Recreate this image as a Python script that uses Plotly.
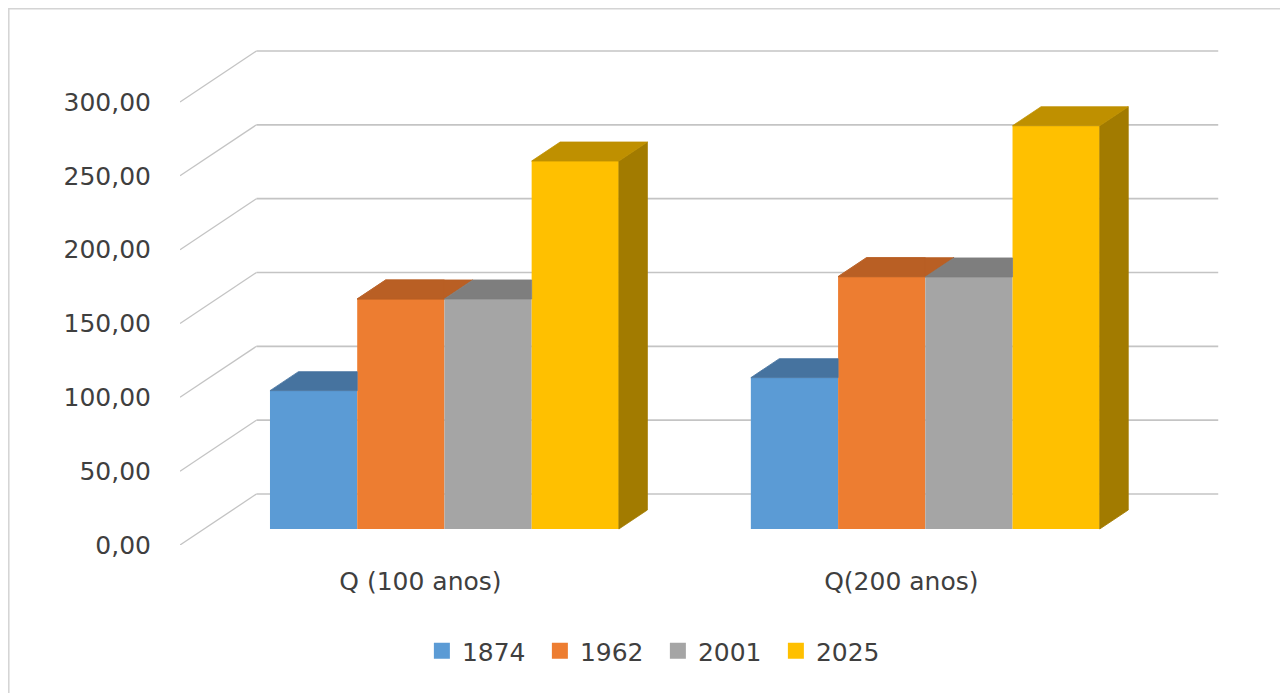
import plotly.graph_objects as go

# ---------------- data ----------------
categories = ["Q (100 anos)", "Q(200 anos)"]
series_names = ["1874", "1962", "2001", "2025"]
values_1874 = [93.7, 102.5]
values_1962 = [155.8, 170.9]
values_2001 = [155.8, 170.7]
values_2025 = [249.2, 273.1]
y_tick_values = [0, 50, 100, 150, 200, 250, 300]
y_tick_labels = ["0,00", "50,00", "100,00", "150,00", "200,00", "250,00", "300,00"]

series_values = [values_1874, values_1962, values_2001, values_2025]

# ---------------- styling ----------------
front_colors = ["#5B9BD5", "#ED7D31", "#A5A5A5", "#FFC000"]
top_colors = ["#46739F", "#B95F24", "#7E7E7E", "#BF9000"]
side_colors = ["#3B6186", "#9C4F1D", "#6B6B6B", "#A27B00"]
grid_color = "#C4C4C4"
text_color = "#3F3F3F"
FONT = "DejaVu Sans"

# page offset of the plot div (default body margin)
OFF = 8
FIG_W = 1288 - OFF
FIG_H = 693 - OFF

# pixel geometry of the oblique (fake 3-D) projection
PX_Y = 443 / 300.0          # px per value unit
PX_X = 481.0                # px per category
WDY = 51 / PX_Y             # back wall offset (value units)
WDX = 76.5 / PX_X           # back wall offset (category units)
BY0 = 16 / PX_Y             # bar front plane offset
BX0 = 24 / PX_X
BDY = 19 / PX_Y             # bar depth
BDX = 28.5 / PX_X
W = 87.25 / PX_X            # bar width
K = BDY / BDX

X_MIN = -0.5
X_MAX = 1.5 + WDX + 0.012
Y_MAX = (545 - 49) / PX_Y

L_M = 180 - OFF
T_M = 49 - OFF
PLOT_W = (X_MAX - X_MIN) * PX_X
PLOT_H = Y_MAX * PX_Y
R_M = FIG_W - L_M - PLOT_W
B_M = FIG_H - T_M - PLOT_H


def clip(poly, f):
    out = []
    n = len(poly)
    for k in range(n):
        p, q = poly[k], poly[(k + 1) % n]
        fp, fq = f(p), f(q)
        if fp >= -1e-9:
            out.append(p)
        if (fp >= -1e-9) != (fq >= -1e-9):
            t = fp / (fp - fq)
            out.append((p[0] + t * (q[0] - p[0]), p[1] + t * (q[1] - p[1])))
    return out


def area(poly):
    s = 0.0
    for k in range(len(poly)):
        x0, y0 = poly[k]
        x1, y1 = poly[(k + 1) % len(poly)]
        s += x0 * y1 - x1 * y0
    return abs(s) / 2


fig = go.Figure()

# front faces as bars
for i, name in enumerate(series_names):
    xs = [c + BX0 - 2 * W + (i + 0.5) * W for c in range(len(categories))]
    fig.add_trace(go.Bar(
        x=xs, y=series_values[i], base=BY0, width=W, name=name,
        marker=dict(color=front_colors[i], line=dict(width=0)),
        hoverinfo="skip", showlegend=False, legendgroup=name,
    ))

# top and side faces
top_polys = [[] for _ in series_names]
side_polys = [[] for _ in series_names]
for c in range(len(categories)):
    for i in range(len(series_names)):
        x0 = c + BX0 - 2 * W + i * W
        x1 = x0 + W
        t = BY0 + series_values[i][c]
        top = [(x0, t), (x1, t), (x1 + BDX, t + BDY), (x0 + BDX, t + BDY)]
        side = [(x1, BY0), (x1 + BDX, BY0 + BDY), (x1 + BDX, t + BDY), (x1, t)]
        if i + 1 < len(series_names):
            nt = BY0 + series_values[i + 1][c]
            above = (lambda p, nt=nt, x1=x1: p[1] - (nt + (p[0] - x1) * K))
            left = (lambda p, x1=x1: x1 - p[0])
            tops = [clip(top, left), clip(top, above)]
            sides = [clip(side, above)]
        else:
            tops = [top]
            sides = [side]
        top_polys[i] += [p for p in tops if len(p) >= 3 and area(p) > 1e-6]
        side_polys[i] += [p for p in sides if len(p) >= 3 and area(p) > 1e-6]


def poly_trace(polys, color):
    xs, ys = [], []
    for p in polys:
        xs += [q[0] for q in p] + [p[0][0], None]
        ys += [q[1] for q in p] + [p[0][1], None]
    return go.Scatter(x=xs, y=ys, mode="lines", fill="toself", fillcolor=color,
                      line=dict(color=color, width=0.8), showlegend=False,
                      hoverinfo="skip")


for i in range(len(series_names)):
    if side_polys[i]:
        fig.add_trace(poly_trace(side_polys[i], side_colors[i]))
    if top_polys[i]:
        fig.add_trace(poly_trace(top_polys[i], top_colors[i]))

# legend entries (square swatches)
for i, name in enumerate(series_names):
    fig.add_trace(go.Scatter(
        x=[None], y=[None], mode="markers", name=name, legendgroup=name,
        marker=dict(symbol="square", size=16, color=front_colors[i],
                    line=dict(width=0)),
        showlegend=True, hoverinfo="skip",
    ))

# back wall gridlines and side-wall diagonals
shapes = []
for v in y_tick_values:
    shapes.append(dict(type="line", xref="x", yref="y", layer="below",
                       x0=X_MIN + WDX, x1=1.5 + WDX, y0=v + WDY, y1=v + WDY,
                       line=dict(color=grid_color, width=1.6)))
    shapes.append(dict(type="line", xref="x", yref="y", layer="below",
                       x0=X_MIN, x1=X_MIN + WDX, y0=v, y1=v + WDY,
                       line=dict(color=grid_color, width=1.3)))

# chart-area border (top, left, right edges of the page)
shapes.append(dict(type="rect", xref="paper", yref="paper", layer="below",
                   x0=(0.75 - L_M) / PLOT_W, x1=(FIG_W - 0.75 - L_M) / PLOT_W,
                   y0=-(B_M + 20) / PLOT_H, y1=(T_M + PLOT_H - 0.75) / PLOT_H,
                   line=dict(color="#D4D4D4", width=1.5),
                   fillcolor="rgba(0,0,0,0)"))

fig.update_layout(
    width=FIG_W, height=FIG_H,
    margin=dict(l=L_M, r=R_M, t=T_M, b=B_M, autoexpand=False),
    paper_bgcolor="white", plot_bgcolor="white",
    barmode="overlay",
    shapes=shapes,
    font=dict(family=FONT, size=25, color=text_color),
    showlegend=True,
    legend=dict(orientation="h", x=(658 - 180) / PLOT_W, xanchor="center",
                y=(545 - 651) / PLOT_H, yanchor="middle",
                entrywidth=73, entrywidthmode="pixels",
                itemsizing="trace",
                font=dict(family=FONT, size=25, color=text_color),
                bgcolor="rgba(0,0,0,0)", traceorder="normal"),
    xaxis=dict(range=[X_MIN, X_MAX], tickvals=list(range(len(categories))),
               ticktext=categories, showgrid=False, zeroline=False,
               showline=False, ticks="", ticklabelstandoff=19,
               tickfont=dict(family=FONT, size=25, color=text_color),
               fixedrange=True),
    yaxis=dict(range=[0, Y_MAX], tickvals=y_tick_values, ticktext=y_tick_labels,
               showgrid=False, zeroline=False, showline=False, ticks="",
               ticklabelstandoff=28,
               tickfont=dict(family=FONT, size=25, color=text_color),
               fixedrange=True),
)

fig.write_html("out.html")
